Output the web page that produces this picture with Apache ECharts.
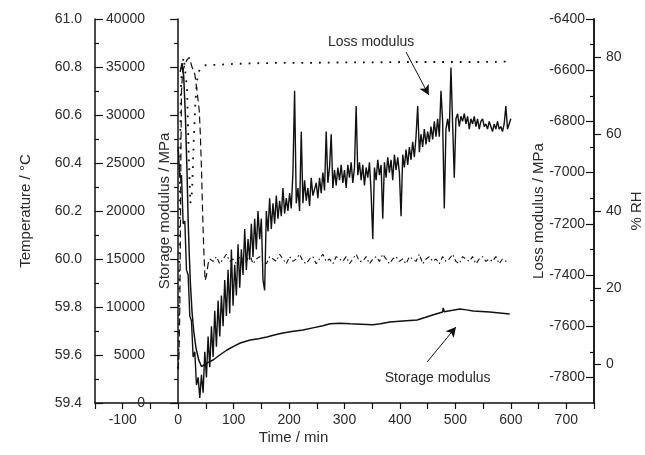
<!DOCTYPE html>
<html><head><meta charset="utf-8">
<script src="https://cdn.jsdelivr.net/npm/echarts@6/dist/echarts.min.js"></script>
<style>html,body{margin:0;padding:0;background:#fff}#c{width:645px;height:455px}</style>
</head><body><div id="c"></div>
<script>
// ---------- data ----------
// Storage modulus (smooth solid line), MPa, left inner axis
const storageTime  = [3.6,7,10,13,16,18,20,22,25,28,32,37,42,45,50,63,75,88,100,112,130,145,160,175,189,205,225,245,261,274,292,310,330,351,365,382,405,431,445,459,477,478,480,495,508,520,532,547,562,580,598];
const storageValue = [34500,35400,34000,30000,24000,19000,15500,12500,9500,7500,5800,4500,3800,3960,4100,4480,5000,5520,5900,6250,6560,6700,6875,7100,7290,7450,7600,7850,8050,8250,8300,8250,8200,8150,8250,8440,8550,8650,8900,9170,9480,9900,9500,9650,9790,9700,9580,9530,9480,9380,9270];

// Loss modulus (noisy solid line), MPa, right inner axis; sampled every 3 min from t = 0
const lossStart = 0, lossStep = 3;
const lossValue = [
 -6900,-7020,-7010,-7200,-7190,-7380,-7400,-7560,-7580,-7720,
 -7700,-7830,-7800,-7880,-7790,-7860,-7700,-7800,-7640,-7760,
 -7600,-7720,-7540,-7680,-7500,-7640,-7480,-7600,-7420,-7560,
 -7380,-7550,-7300,-7520,-7360,-7480,-7280,-7450,-7300,-7400,
 -7220,-7380,-7260,-7340,-7200,-7330,-7180,-7300,-7150,-7260,
 -7180,-7420,-7460,-7150,-7230,-7100,-7220,-7120,-7200,-7090,
 -7180,-7110,-7170,-7060,-7160,-7100,-7150,-7080,-7140,-7000,
 -6680,-7120,-7060,-7150,-6840,-7120,-7030,-7110,-7060,-7130,
 -7020,-7090,-7090,-7040,-7100,-7020,-7080,-7000,-7070,-6840,
 -7040,-6980,-6850,-7060,-6990,-7050,-6980,-7030,-6970,-7040,
 -6990,-7060,-6970,-7020,-6960,-7040,-6980,-6740,-7010,-6960,
 -7030,-6970,-7050,-6980,-7020,-6960,-7080,-7260,-6980,-7030,
 -6950,-7010,-6970,-7180,-6960,-7020,-6940,-7000,-6950,-7030,
 -6930,-6990,-6940,-7000,-7170,-6930,-6980,-6910,-6970,-6900,
 -6950,-6880,-6940,-6860,-6740,-6920,-6850,-6900,-6830,-6890,
 -6840,-6880,-6820,-6870,-6800,-6860,-6790,-6860,-6680,-6800,
 -7140,-6830,-6790,-6840,-6590,-6810,-7020,-6790,-6770,-6820,
 -6780,-6800,-6770,-6810,-6780,-6830,-6790,-6810,-6780,-6820,
 -6790,-6830,-6800,-6790,-6820,-6810,-6830,-6800,-6820,-6840,
 -6810,-6830,-6800,-6830,-6820,-6840,-6810,-6740,-6830,-6810,
 -6790];

// Temperature (dashed at start, dash-dot afterwards), °C, left outer axis
const tempEarlyTime  = [0,1.5,3,4,5,6,8,12,16,20,25,30,34,38,40,42,44,46,48.6,51,54,57];
const tempEarlyValue = [59.54,59.6,59.8,60.1,60.45,60.7,60.78,60.81,60.83,60.84,60.8,60.77,60.7,60.62,60.52,60.38,60.2,60.05,59.91,59.93,59.98,60.0];
const tempLateStart = 57, tempLateStep = 6;
const tempLateValue = [
 60.00,59.99,60.01,59.98,60.00,60.02,59.99,60.00,59.98,60.01,
 60.00,59.99,60.02,59.98,60.00,60.01,59.99,59.98,60.01,60.00,
 59.99,60.02,60.00,59.98,60.01,59.99,60.00,60.02,59.99,59.98,
 60.00,60.01,59.98,60.00,60.02,59.99,60.00,59.98,60.01,60.00,
 59.99,60.01,59.98,60.00,60.02,59.99,59.99,60.01,59.98,60.00,
 60.01,59.99,60.02,60.00,59.98,60.00,60.01,59.99,60.00,59.98,
 60.01,60.00,59.99,60.02,59.98,60.00,60.01,59.99,60.00,59.98,
 60.01,59.99,60.00,60.02,59.99,59.98,60.01,60.00,59.99,60.01,
 59.98,60.00,60.01,59.99,60.00,59.99,60.01,59.98,60.00,59.99,
 59.99];

// Relative humidity (dotted), %, right outer axis
const rhTime  = [0,1,2,3,4,5,7,10,13,16,19,22,25,28,31,34,38,42,50,75,100,150,200,250,300,350,400,450,500,550,600];
const rhValue = [-1,8,25,45,62,72,78,80,79.5,72,55,42,45,58,68,74,76.5,77.5,78,78.1,78.3,78.5,78.6,78.6,78.7,78.7,78.8,78.8,78.8,78.8,78.9];

// Axis tick labels
const lossLabels = [-7800,-7600,-7400,-7200,-7000,-6800,-6600,-6400];
const lossMinor  = [-7700,-7500,-7300,-7100,-6900,-6700,-6500];
const rhLabels   = [0,20,40,60,80];

// ---------- build ----------
const pair = (ts, vs) => vs.map((v, i) => [ts[i], v]);
const stepPair = (start, step, vs) => vs.map((v, i) => [start + i * step, v]);

const FONT = 'Liberation Sans, Arial, Helvetica, sans-serif';
const INK = '#111';
const TXT = '#2a2a2a';
const axisLine = { show: true, lineStyle: { color: INK, width: 1.5 } };
const lbl = { fontFamily: FONT, fontSize: 14, color: TXT };
const nameStyle = { fontFamily: FONT, fontSize: 15, color: TXT };
const plain = v => String(Math.round(v));

const chart = echarts.init(document.getElementById('c'), null, { renderer: 'canvas' });
chart.setOption({
  animation: false,
  backgroundColor: '#fff',
  grid: { left: 95, right: 51, top: 19, bottom: 52, containLabel: false, outerBoundsMode: 'none' },
  xAxis: {
    type: 'value', min: -150, max: 750, interval: 50,
    axisLine: axisLine,
    axisTick: { show: true, length: 6, lineStyle: { color: INK, width: 1.2 } },
    axisLabel: Object.assign({ margin: 10, formatter: v => (v % 100 === 0 ? String(v) : '') }, lbl),
    splitLine: { show: false },
    name: 'Time / min', nameLocation: 'middle', nameGap: 27, nameMoveOverlap: false,
    nameTextStyle: Object.assign({ padding: [0, 102, 0, 0] }, nameStyle)
  },
  yAxis: [
    { // 0 temperature
      type: 'value', position: 'left', min: 59.4, max: 61.0, interval: 0.2,
      axisLine: axisLine,
      axisTick: { show: true, length: 8, lineStyle: { color: INK, width: 1.2 } },
      minorTick: { show: true, splitNumber: 2, length: 4, lineStyle: { color: INK, width: 1.2 } },
      axisLabel: Object.assign({ margin: 13, formatter: v => v.toFixed(1) }, lbl),
      splitLine: { show: false }, minorSplitLine: { show: false },
      name: 'Temperature / °C', nameLocation: 'middle', nameGap: 62, nameMoveOverlap: false, nameTextStyle: nameStyle
    },
    { // 1 storage modulus
      type: 'value', position: 'left', min: 0, max: 40000, interval: 5000,
      axisLine: axisLine,
      axisTick: { show: true, inside: true, length: 8, lineStyle: { color: INK, width: 1.2 } },
      minorTick: { show: true, splitNumber: 2, length: 4, lineStyle: { color: INK, width: 1.2 } },
      axisLabel: Object.assign({ inside: true, align: 'right', margin: 50, formatter: plain }, lbl),
      splitLine: { show: false }, minorSplitLine: { show: false },
      name: 'Storage modulus / MPa', nameLocation: 'middle', nameGap: -77, nameMoveOverlap: false, nameTextStyle: nameStyle
    },
    { // 2 loss modulus
      type: 'value', position: 'right', min: -7900, max: -6400, interval: 100,
      axisLine: axisLine,
      axisTick: { show: true, inside: true, length: 8, customValues: lossLabels, lineStyle: { color: INK, width: 1.2 } },
      axisLabel: Object.assign({ inside: true, margin: 9, customValues: lossLabels, formatter: plain }, lbl),
      splitLine: { show: false },
      name: 'Loss modulus / MPa', nameLocation: 'middle', nameGap: -63, nameMoveOverlap: false, nameTextStyle: nameStyle
    },
    { // 3 %RH
      type: 'value', position: 'right', min: -10, max: 90, interval: 10,
      axisLine: axisLine,
      axisTick: { show: true, length: 7, customValues: rhLabels, lineStyle: { color: INK, width: 1.2 } },
      axisLabel: Object.assign({ margin: 12, customValues: rhLabels, formatter: plain }, lbl),
      splitLine: { show: false },
      name: '% RH', nameLocation: 'middle', nameGap: 35, nameMoveOverlap: false, nameTextStyle: nameStyle
    },
    { // 4 loss modulus minor ticks
      type: 'value', position: 'right', min: -7900, max: -6400, interval: 100,
      axisLine: { show: false },
      axisTick: { show: true, inside: true, length: 4, customValues: lossMinor, lineStyle: { color: INK, width: 1.2 } },
      axisLabel: { show: false },
      splitLine: { show: false }
    }
  ],
  series: [
    {
      name: 'Storage modulus', type: 'line', xAxisIndex: 0, yAxisIndex: 1,
      data: pair(storageTime, storageValue), showSymbol: false, symbol: 'none',
      lineStyle: { color: INK, width: 1.5 }, z: 5,
      markLine: {
        silent: true, symbol: ['none', 'arrow'], symbolSize: [8, 10],
        lineStyle: { color: INK, width: 1, type: 'solid' }, label: { show: false },
        data: [
          [{ coord: [411, 36560] }, { coord: [452, 32080] }],
          [{ coord: [449, 4270] }, { coord: [501, 7920] }]
        ]
      }
    },
    {
      name: 'Loss modulus', type: 'line', xAxisIndex: 0, yAxisIndex: 2,
      data: stepPair(lossStart, lossStep, lossValue), showSymbol: false, symbol: 'none',
      lineStyle: { color: INK, width: 1.4 }, z: 4
    },
    {
      name: 'Temperature', type: 'line', xAxisIndex: 0, yAxisIndex: 0,
      data: pair(tempEarlyTime, tempEarlyValue), showSymbol: false, symbol: 'none',
      lineStyle: { color: INK, width: 1.2, type: [7, 4] }
    },
    {
      name: 'Temperature (late)', type: 'line', xAxisIndex: 0, yAxisIndex: 0,
      data: stepPair(tempLateStart, tempLateStep, tempLateValue), showSymbol: false, symbol: 'none',
      lineStyle: { color: INK, width: 1.1, type: [5, 3, 1.5, 3] }
    },
    {
      name: '% RH', type: 'line', xAxisIndex: 0, yAxisIndex: 3,
      data: pair(rhTime, rhValue), showSymbol: false, symbol: 'none',
      lineStyle: { color: INK, width: 1.8, type: [1.8, 7] }
    }
  ]
});

const p1 = chart.convertToPixel({ xAxisIndex: 0, yAxisIndex: 1 }, [348, 37600]);
const p2 = chart.convertToPixel({ xAxisIndex: 0, yAxisIndex: 1 }, [468, 2600]);
chart.setOption({
  graphic: [
    { type: 'text', x: p1[0], y: p1[1], style: { text: 'Loss modulus', font: '14px ' + FONT, fill: TXT, align: 'center', verticalAlign: 'middle', textAlign: 'center', textVerticalAlign: 'middle' } },
    { type: 'text', x: p2[0], y: p2[1], style: { text: 'Storage modulus', font: '14px ' + FONT, fill: TXT, align: 'center', verticalAlign: 'middle', textAlign: 'center', textVerticalAlign: 'middle' } }
  ]
});
</script>
</body></html>
